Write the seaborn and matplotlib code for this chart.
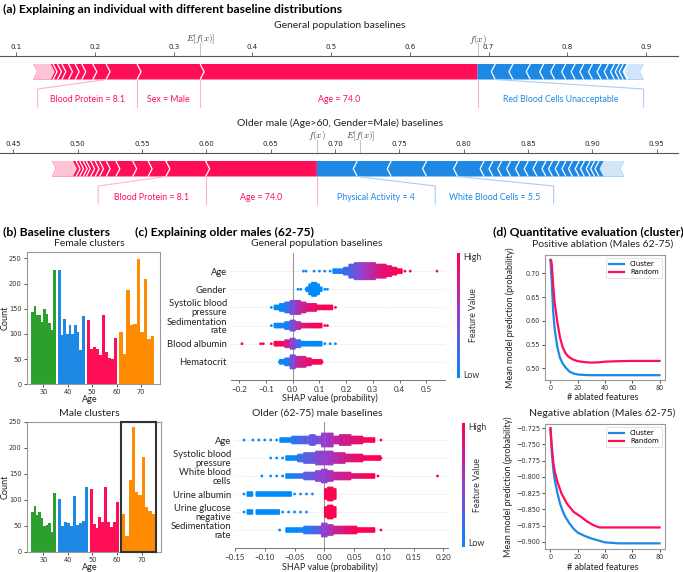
import numpy as np
import pandas as pd
import seaborn as sns
import matplotlib.pyplot as plt
from matplotlib.colors import LinearSegmentedColormap
from matplotlib.patches import Rectangle, Polygon

plt.rcParams['font.family'] = ['Lato', 'DejaVu Sans']
plt.rcParams['mathtext.fontset'] = 'cm'

W, H = 683, 572
RED = '#ff0d57'
BLUE = '#1e88e5'
GREEN = '#2ca02c'
ORANGE = '#ff8c00'
shap_cmap = LinearSegmentedColormap.from_list('shap', ['#008bfb', '#9440d0', '#ff0051'])

# ---------------- (a) force plots ----------------
gen_red_edges = [0.1213, 0.1466, 0.1522, 0.1578, 0.1662, 0.1747, 0.1831, 0.1971, 0.214, 0.2533, 0.3335, 0.686]
gen_red_fade = 0.1438
gen_blue_edges = [0.686, 0.7085, 0.731, 0.753, 0.770, 0.784, 0.798, 0.810, 0.821, 0.832, 0.843,
                  0.852, 0.860, 0.866, 0.871, 0.877, 0.897]
gen_blue_fade = 0.875
gen_base, gen_fx = 0.3335, 0.686
gen_labels = ['Blood Protein = 8.1', 'Sex = Male', 'Age = 74.0', 'Red Blood Cells Unacceptable']
gen_label_side = ['r', 'r', 'r', 'b']
gen_box_edges = [0.127, 0.2533, 0.3335, 0.686, 0.897]
gen_link_edges = [0.214, 0.2533, 0.3335, 0.686, 0.7085]
gen_ticks = [0.1, 0.2, 0.3, 0.4, 0.5, 0.6, 0.7, 0.8, 0.9]

old_red_edges = [0.480, 0.4988, 0.5015, 0.5043, 0.5067, 0.5101, 0.5136, 0.517, 0.5222, 0.5297, 0.5428,
                 0.5548, 0.5686, 0.5995, 0.686]
old_red_fade = 0.4964
old_blue_edges = [0.686, 0.7174, 0.7438, 0.7713, 0.7954, 0.816, 0.8229, 0.8297, 0.8366, 0.8435,
                  0.8503, 0.8572, 0.8641, 0.8692, 0.8744, 0.8796, 0.8847, 0.8899, 0.894, 0.8985,
                  0.9019, 0.9053, 0.9249]
old_blue_fade = 0.9088
old_base, old_fx = 0.7198, 0.686
old_labels = ['Blood Protein = 8.1', 'Age = 74.0', 'Physical Activity = 4', 'White Blood Cells = 5.5']
old_label_side = ['r', 'r', 'b', 'b']
old_box_edges = [0.516, 0.5995, 0.686, 0.778, 0.870]
old_link_edges = [0.5686, 0.5995, 0.686, 0.7174, 0.7954]
old_ticks = [0.45, 0.50, 0.55, 0.60, 0.65, 0.70, 0.75, 0.80, 0.85, 0.90, 0.95]

# ---------------- (b) cluster histograms ----------------
cluster_colors = [GREEN, BLUE, RED, ORANGE]
female_ranges = [(25, 35), (36, 47), (48, 60), (61, 75.5)]
female_counts = [
    [144, 155, 137, 137, 124, 149, 139, 122, 108, 227],
    [226, 97, 130, 100, 117, 99, 117, 103, 69, 136],
    [127, 70, 74, 70, 59, 138, 65, 53, 51, 91],
    [104, 60, 188, 118, 120, 249, 103, 209, 90, 95],
]
male_ranges = [(25, 35), (36, 48.2), (48.9, 60.7), (62, 75.5)]
male_counts = [
    [76, 87, 71, 76, 64, 49, 52, 55, 38, 112],
    [101, 50, 58, 55, 50, 108, 52, 55, 60, 124],
    [120, 54, 45, 66, 58, 124, 58, 47, 57, 95],
    [73, 31, 137, 239, 115, 110, 183, 86, 79, 73],
]

# ---------------- (c) beeswarm bins: (shap value, half height in dots, feature value) ----------------
gp_features = ['Age', 'Gender', 'Systolic blood\npressure', 'Sedimentation\nrate', 'Blood albumin', 'Hematocrit']
gp_age = [(0.04, 0, 0.1), (0.05, 0, 0.05), (0.08, 0, 0.05), (0.10, 0, 0.05), (0.12, 0, 0.05), (0.14, 0, 0.05),
          (0.16, 1, 0.05), (0.18, 1, 0.1), (0.20, 2, 0.2), (0.22, 4, 0.3), (0.24, 5, 0.4), (0.26, 5, 0.5),
          (0.28, 5, 0.6), (0.30, 5, 0.7), (0.32, 4, 0.8), (0.34, 4, 0.88), (0.36, 3, 0.92), (0.38, 2, 0.95),
          (0.40, 1, 1.0), (0.42, 0, 1.0), (0.44, 0, 1.0), (0.54, 0, 0.7)]
gp_gender = [(0.02, 0, 0), (0.03, 0, 0), (0.05, 0, 0), (0.06, 1, 0), (0.07, 3, 0), (0.08, 4, 0), (0.09, 3, 0),
             (0.10, 1, 0), (0.12, 0, 0), (0.13, 0, 0)]
gp_sys = [(-0.08, 0, 0), (-0.06, 1, 0), (-0.04, 2, 0.05), (-0.02, 3, 0.15), (0.00, 4, 0.4), (0.02, 4, 0.6),
          (0.04, 3, 0.75), (0.06, 2, 0.85), (0.08, 2, 0.9), (0.10, 1, 0.95), (0.12, 1, 1), (0.14, 1, 1), (0.16, 0, 1)]
gp_sed = [(-0.08, 0, 0), (-0.06, 1, 0), (-0.04, 1, 0.05), (-0.02, 2, 0.1), (0.00, 3, 0.4), (0.02, 2, 0.65),
          (0.04, 1, 0.8), (0.06, 1, 0.9), (0.08, 1, 0.95), (0.10, 1, 1), (0.12, 0, 1), (0.13, 0, 1)]
gp_alb = [(-0.19, 0, 1), (-0.12, 0, 1), (-0.11, 0, 1), (-0.08, 0, 1), (-0.06, 1, 1), (-0.04, 1, 0.95),
          (-0.02, 2, 0.8), (0.00, 3, 0.5), (0.02, 2, 0.2), (0.04, 1, 0.05), (0.06, 1, 0), (0.08, 1, 0),
          (0.10, 1, 0), (0.12, 0, 0), (0.14, 0, 0), (0.16, 0, 0)]
gp_hct = [(-0.05, 0, 0), (-0.04, 1, 0), (-0.02, 2, 0.1), (0.00, 4, 0.4), (0.02, 3, 0.7), (0.04, 3, 0.8),
          (0.06, 2, 0.9), (0.08, 1, 0.95), (0.10, 1, 1), (0.11, 0, 1)]
gp_ticks = [-0.2, -0.1, 0.0, 0.1, 0.2, 0.3, 0.4, 0.5]

om_features = ['Age', 'Systolic blood\npressure', 'White blood\ncells', 'Urine albumin',
               'Urine glucose\nnegative', 'Sedimentation\nrate']
om_age = [(-0.135, 0, 0), (-0.12, 0, 0), (-0.11, 0, 0), (-0.10, 0, 0), (-0.09, 0, 0), (-0.08, 0, 0),
          (-0.07, 1, 0), (-0.06, 1, 0.05), (-0.05, 2, 0.15), (-0.04, 2, 0.25), (-0.03, 2, 0.3), (-0.02, 3, 0.35),
          (-0.01, 2, 0.4), (0.00, 4, 0.5), (0.01, 4, 0.6), (0.02, 2, 0.7), (0.03, 3, 0.75), (0.04, 3, 0.8),
          (0.05, 2, 0.85), (0.06, 2, 0.9), (0.07, 1, 0.95), (0.08, 1, 1), (0.095, 0, 1)]
om_sys = [(-0.09, 0, 0), (-0.08, 0, 0), (-0.07, 0, 0), (-0.06, 1, 0), (-0.05, 1, 0.05), (-0.04, 2, 0.2),
          (-0.03, 3, 0.3), (-0.02, 3, 0.35), (-0.01, 4, 0.45), (0.00, 4, 0.5), (0.01, 4, 0.55), (0.02, 3, 0.65),
          (0.03, 3, 0.75), (0.04, 2, 0.8), (0.05, 2, 0.85), (0.06, 2, 0.9), (0.07, 1, 0.95), (0.08, 1, 1),
          (0.09, 1, 1), (0.095, 0, 1)]
om_wbc = [(-0.105, 0, 0), (-0.09, 0, 0), (-0.08, 0, 0), (-0.07, 0, 0), (-0.06, 1, 0), (-0.05, 1, 0.1),
          (-0.04, 1, 0.2), (-0.03, 2, 0.3), (-0.02, 2, 0.35), (-0.01, 3, 0.45), (0.00, 4, 0.5), (0.01, 3, 0.6),
          (0.02, 2, 0.7), (0.03, 2, 0.75), (0.04, 2, 0.8), (0.05, 1, 0.85), (0.06, 1, 0.9), (0.07, 1, 0.95),
          (0.08, 1, 1), (0.09, 0, 1), (0.19, 0, 1)]
om_ualb = [(-0.135, 0, 0), (-0.125, 1, 0), (-0.11, 1, 0), (-0.10, 1, 0), (-0.09, 1, 0), (-0.08, 1, 0),
           (-0.07, 1, 0), (-0.06, 1, 0), (-0.05, 0, 0), (-0.04, 0, 0), (-0.03, 0, 0), (-0.02, 0, 0),
           (0.005, 3, 1), (0.01, 4, 1), (0.015, 3, 1)]
om_uglu = [(-0.135, 0, 0), (-0.125, 1, 0), (-0.11, 1, 0), (-0.10, 1, 0), (-0.09, 1, 0), (-0.08, 1, 0),
           (-0.07, 0, 0), (-0.06, 0, 0), (-0.05, 0, 0), (-0.04, 0, 0), (-0.03, 0, 0),
           (0.005, 3, 1), (0.01, 4, 1), (0.015, 3, 1)]
om_sed = [(-0.075, 0, 0), (-0.06, 1, 0), (-0.05, 1, 0), (-0.04, 1, 0.05), (-0.03, 2, 0.1), (-0.02, 2, 0.2),
          (-0.01, 2, 0.3), (0.00, 4, 0.5), (0.01, 3, 0.6), (0.02, 2, 0.75), (0.03, 2, 0.8), (0.04, 2, 0.9),
          (0.05, 2, 0.95), (0.06, 1, 1), (0.07, 1, 1), (0.08, 1, 1), (0.095, 0, 1)]
om_ticks = [-0.15, -0.10, -0.05, 0.0, 0.05, 0.10, 0.15, 0.20]

# ---------------- (d) ablation curves ----------------
pos_cluster_x = [0, 1, 2, 3, 5, 7, 9, 11, 14, 17, 20, 25, 30, 40, 60, 80]
pos_cluster_y = [0.728, 0.680, 0.620, 0.585, 0.545, 0.522, 0.510, 0.502, 0.493, 0.489, 0.487, 0.486,
                 0.4855, 0.4855, 0.4855, 0.4855]
pos_random_x = [0, 0.5, 1, 2, 3, 5, 7, 9, 11, 13, 15, 17, 20, 25, 30, 35, 40, 50, 60, 80]
pos_random_y = [0.728, 0.727, 0.718, 0.675, 0.640, 0.598, 0.565, 0.544, 0.532, 0.525, 0.521, 0.518, 0.515,
                0.513, 0.512, 0.5125, 0.514, 0.515, 0.5155, 0.5155]
neg_cluster_x = [0, 1, 2, 3, 5, 7, 9, 11, 14, 17, 20, 25, 30, 35, 40, 50, 60, 80]
neg_cluster_y = [-0.725, -0.762, -0.787, -0.803, -0.824, -0.841, -0.853, -0.862, -0.872, -0.880, -0.886,
                 -0.891, -0.895, -0.898, -0.901, -0.9025, -0.9025, -0.9025]
neg_random_x = [0, 1, 2, 3, 5, 8, 12, 17, 22, 27, 32, 36, 40, 50, 60, 80]
neg_random_y = [-0.725, -0.753, -0.776, -0.790, -0.807, -0.825, -0.841, -0.854, -0.861, -0.869, -0.875,
                -0.878, -0.878, -0.878, -0.878, -0.878]

fig = plt.figure(figsize=(W / 100, H / 100), dpi=100)


def px_axes(left, top, right, bottom):
    return fig.add_axes([left / W, 1 - bottom / H, (right - left) / W, (bottom - top) / H])


def ftext(x, y, s, **kw):
    kw.setdefault('ha', 'center')
    kw.setdefault('va', 'center')
    fig.text(x / W, 1 - y / H, s, **kw)


def draw_force(ax, xlim, ticks, tickfmt, red_edges, red_fade, blue_edges, blue_fade, base, fx,
               labels, sides, box_edges, link_edges):
    top, bot, slant, laby, lbot = 8, 23.5, 33, 44, 51
    mid = (top + bot) / 2
    ax.set_xlim(*xlim)
    ax.set_ylim(54, 0)
    d = 4 * (xlim[1] - xlim[0]) / 676
    # red part
    x0 = red_edges[0]
    ax.add_patch(Polygon([(x0, top), (fx, top), (fx, bot), (x0, bot), (x0 + d, mid)],
                         closed=True, fc=RED, ec='none'))
    ax.add_patch(Polygon([(x0, top), (red_fade, top), (red_fade + d, mid), (red_fade, bot), (x0, bot),
                          (x0 + d, mid)], closed=True, fc='#ffc3d5', ec='none'))
    for e in red_edges[1:-1]:
        ax.plot([e, e + d, e], [top, mid, bot], color='white', lw=0.9, solid_capstyle='butt')
    # blue part
    x1 = blue_edges[-1]
    ax.add_patch(Polygon([(fx, top), (x1, top), (x1 - d, mid), (x1, bot), (fx, bot)],
                         closed=True, fc=BLUE, ec='none'))
    ax.add_patch(Polygon([(blue_fade, top), (x1, top), (x1 - d, mid), (x1, bot), (blue_fade, bot),
                          (blue_fade - d, mid)], closed=True, fc='#d1e6fa', ec='none'))
    for e in blue_edges[1:-1]:
        ax.plot([e, e - d, e], [top, mid, bot], color='white', lw=0.9, solid_capstyle='butt')
    # label links
    for link, box in zip(link_edges, box_edges):
        col = '#ffb3c8' if link <= fx else '#a9cdf3'
        ax.plot([link, box, box], [bot, slant, lbot], color=col, lw=0.8)
    for i, (lab, side) in enumerate(zip(labels, sides)):
        cx = (box_edges[i] + box_edges[i + 1]) / 2
        ax.text(cx, laby, lab, color=RED if side == 'r' else BLUE, fontsize=6.3, ha='center', va='center')
    # axis on top
    for s in ['left', 'right', 'bottom']:
        ax.spines[s].set_visible(False)
    ax.spines['top'].set_color('#555')
    ax.spines['top'].set_linewidth(0.8)
    ax.xaxis.tick_top()
    ax.set_xticks(ticks)
    ax.set_xticklabels([tickfmt.format(t) for t in ticks])
    ax.tick_params(axis='x', length=3, width=0.6, colors='#555', labelsize=5, pad=1.5, labelcolor='#222')
    for lab in ax.get_xticklabels():
        lab.set_fontfamily('DejaVu Sans')
    ax.set_yticks([])
    ax.patch.set_alpha(0)
    for v, s in [(base, r'$E[f(x)]$'), (fx, r'$f(x)$')]:
        ax.plot([v, v], [-13, 0], color='#bbbbbb', lw=0.6, clip_on=False)
        ax.text(v, -17, s, fontsize=6.5, ha='center', va='center', color='#333')


ftext(3, 9, '(a) Explaining an individual with different baseline distributions',
      ha='left', fontsize=8.7, fontweight='bold')
ftext(340, 26, 'General population baselines', fontsize=7.5, color='#222')
ax_f1 = px_axes(0, 56, 678, 110)
draw_force(ax_f1, (0.0792, 0.1 + 661.6 / 787), gen_ticks, '{:.1f}', gen_red_edges, gen_red_fade,
           gen_blue_edges, gen_blue_fade, gen_base, gen_fx, gen_labels, gen_label_side,
           gen_box_edges, gen_link_edges)

ftext(340, 123, 'Older male (Age>60, Gender=Male) baselines', fontsize=7.5, color='#222')
ax_f2 = px_axes(0, 153, 678, 207)
draw_force(ax_f2, (0.45 - 13.3 / 1286.4, 0.45 + 664.7 / 1286.4), old_ticks, '{:.2f}', old_red_edges,
           old_red_fade, old_blue_edges, old_blue_fade, old_base, old_fx, old_labels, old_label_side,
           old_box_edges, old_link_edges)


# ---------------- (b) ----------------
def cluster_hist(ax, counts_list, ranges, ymax):
    for counts, (lo, hi), col in zip(counts_list, ranges, cluster_colors):
        edges = np.linspace(lo, hi, len(counts) + 1)
        hd = pd.DataFrame({'age': (edges[:-1] + edges[1:]) / 2, 'count': counts})
        sns.histplot(data=hd, x='age', weights='count', bins=list(edges), color=col, alpha=1,
                     linewidth=0, ax=ax)
    ax.set_xlim(23.2, 77.8)
    ax.set_ylim(0, ymax)
    ax.set_xticks([30, 40, 50, 60, 70])
    ax.set_yticks([0, 50, 100, 150, 200, 250])
    ax.set_xlabel('')
    ax.set_ylabel('')
    ax.tick_params(labelsize=4.8, length=2.5, width=0.6, pad=1.2, colors='#333')
    for lab in ax.get_xticklabels() + ax.get_yticklabels():
        lab.set_fontfamily('DejaVu Sans')
    for s in ax.spines.values():
        s.set_color('#999')
        s.set_linewidth(0.8)


ftext(3, 232, '(b) Baseline clusters', ha='left', fontsize=8.7, fontweight='bold')
ax_hf = px_axes(26.7, 252.3, 160, 384.3)
cluster_hist(ax_hf, female_counts, female_ranges, 262)
ftext(89.5, 244, 'Female clusters', fontsize=7.5, color='#222')
ftext(90, 400, 'Age', fontsize=6.5, color='#222')
ftext(5, 318, 'Count', fontsize=6.5, rotation=90, color='#222')

ax_hm = px_axes(26.7, 421.7, 160.7, 551.7)
cluster_hist(ax_hm, male_counts, male_ranges, 250)
ax_hm.add_patch(Rectangle((61.6, 0), 14.2, 250, fill=False, ec='#333', lw=1.5, clip_on=False, zorder=5))
ftext(89.5, 413, 'Male clusters', fontsize=7.5, color='#222')
ftext(90, 567.5, 'Age', fontsize=6.5, color='#222')
ftext(5, 487, 'Count', fontsize=6.5, rotation=90, color='#222')


# ---------------- (c) ----------------
def swarm(ax, rows, names, step, ticks, fmt, xlim):
    xs, ys, cs = [], [], []
    n = len(rows)
    dy = 0.085
    for i, row in enumerate(rows):
        yrow = n - 1 - i
        for x, h, c in row:
            cols = [0] if h == 0 else [-1, 0, 1]
            for cc in cols:
                for k in range(-h, h + 1):
                    xs.append(x + cc * step / 3)
                    ys.append(yrow + k * dy)
                    cs.append(c)
    df = pd.DataFrame({'shap': xs, 'row': ys, 'val': cs})
    for i in range(n):
        ax.axhline(i, color='#cccccc', lw=0.5, dashes=(1, 2), zorder=0)
    ax.axvline(0, color='#999999', lw=0.8, zorder=1)
    sns.scatterplot(data=df, x='shap', y='row', hue='val', palette=shap_cmap, hue_norm=(0, 1),
                    s=4, linewidth=0, legend=False, ax=ax, zorder=3)
    ax.set_ylim(-1, n)
    ax.set_xlim(*xlim)
    ax.set_yticks(range(n))
    ax.set_yticklabels(names[::-1], fontsize=6.8, color='#222', linespacing=0.95)
    ax.set_xticks(ticks)
    ax.set_xticklabels([fmt.format(t).replace('-', '\u2212') for t in ticks])
    ax.tick_params(axis='y', length=0, pad=3)
    ax.tick_params(axis='x', labelsize=5.8, length=2.5, width=0.6, colors='#555', labelcolor='#333', pad=1.5)
    ax.set_xlabel('')
    ax.set_ylabel('')
    for s in ['left', 'right', 'top']:
        ax.spines[s].set_visible(False)
    ax.spines['bottom'].set_color('#777')
    ax.spines['bottom'].set_linewidth(0.7)


def colorbar(left, top, right, bottom, hx, fvx):
    cax = px_axes(left, top, right, bottom)
    cax.imshow(np.linspace(0, 1, 256).reshape(-1, 1), aspect='auto', cmap=shap_cmap, origin='lower')
    cax.axis('off')
    ftext(hx, top + 4, 'High', ha='left', fontsize=6.3, color='#333')
    ftext(hx, bottom - 3, 'Low', ha='left', fontsize=6.3, color='#333')
    ftext(fvx, (top + bottom) / 2, 'Feature Value', rotation=90, fontsize=6.3, color='#333')


ftext(135, 232, '(c) Explaining older males (62-75)', ha='left', fontsize=8.7, fontweight='bold')
ax_b1 = px_axes(231, 253, 445, 380)
swarm(ax_b1, [gp_age, gp_gender, gp_sys, gp_sed, gp_alb, gp_hct], gp_features, 0.02, gp_ticks, '{:.1f}',
      (-0.231, 0.570))
ftext(317, 244, 'General population baselines', fontsize=7.5, color='#222')
ftext(330, 398, 'SHAP value (probability)', fontsize=6.5, color='#222')
colorbar(457, 253, 460, 378, 463, 474)

ax_b2 = px_axes(235, 422, 448, 548)
swarm(ax_b2, [om_age, om_sys, om_wbc, om_ualb, om_uglu, om_sed], om_features, 0.01, om_ticks, '{:.2f}',
      (-0.150, 0.2076))
ftext(317, 413, 'Older (62-75) male baselines', fontsize=7.5, color='#222')
ftext(330, 567, 'SHAP value (probability)', fontsize=6.5, color='#222')
colorbar(462, 423, 465, 547, 468, 478)


# ---------------- (d) ----------------
def ablation(ax, cx, cy, rx, ry, ylim, yticks, yfmt):
    sns.lineplot(x=cx, y=cy, color=BLUE, lw=1.6, label='Cluster', ax=ax)
    sns.lineplot(x=rx, y=ry, color=RED, lw=1.6, label='Random', ax=ax)
    ax.set_xlim(-4, 84)
    ax.set_ylim(*ylim)
    ax.set_xticks([0, 20, 40, 60, 80])
    ax.set_yticks(yticks)
    ax.set_yticklabels([yfmt.format(t).replace('-', '\u2212') for t in yticks])
    ax.set_xlabel('')
    ax.set_ylabel('')
    ax.tick_params(labelsize=4.7, length=2.5, width=0.6, pad=1.2, colors='#333')
    for lab in ax.get_xticklabels() + ax.get_yticklabels():
        lab.set_fontfamily('DejaVu Sans')
    for s in ax.spines.values():
        s.set_color('#999')
        s.set_linewidth(0.8)
    leg = ax.legend(loc='upper right', fontsize=5, handlelength=2.2, borderpad=0.4, labelspacing=0.3,
                    frameon=True, fancybox=True)
    leg.get_frame().set_linewidth(0.5)
    for t in leg.get_texts():
        t.set_fontfamily('DejaVu Sans')


ftext(493, 232, '(d) Quantitative evaluation (cluster)', ha='left', fontsize=8.7, fontweight='bold')
ax_p = px_axes(545, 255, 665, 380)
ablation(ax_p, pos_cluster_x, pos_cluster_y, pos_random_x, pos_random_y, (0.4754, 0.7385),
         [0.50, 0.55, 0.60, 0.65, 0.70], '{:.2f}')
ftext(602.5, 244, 'Positive ablation (Males 62-75)', fontsize=7.5, color='#222')
ftext(603, 398, '# ablated features', fontsize=6.5, color='#222')
ftext(510, 318, 'Mean model prediction (probability)', fontsize=6.5, rotation=90, color='#222')

ax_n = px_axes(545, 424, 665, 549.3)
ablation(ax_n, neg_cluster_x, neg_cluster_y, neg_random_x, neg_random_y, (-0.9117, -0.7184),
         [-0.725, -0.750, -0.775, -0.800, -0.825, -0.850, -0.875, -0.900], '{:.3f}')
ftext(601.7, 413, 'Negative ablation (Males 62-75)', fontsize=7.5, color='#222')
ftext(603, 567, '# ablated features', fontsize=6.5, color='#222')
ftext(508, 487, 'Mean model prediction (probability)', fontsize=6.5, rotation=90, color='#222')

fig.savefig('out.png', dpi=100)
